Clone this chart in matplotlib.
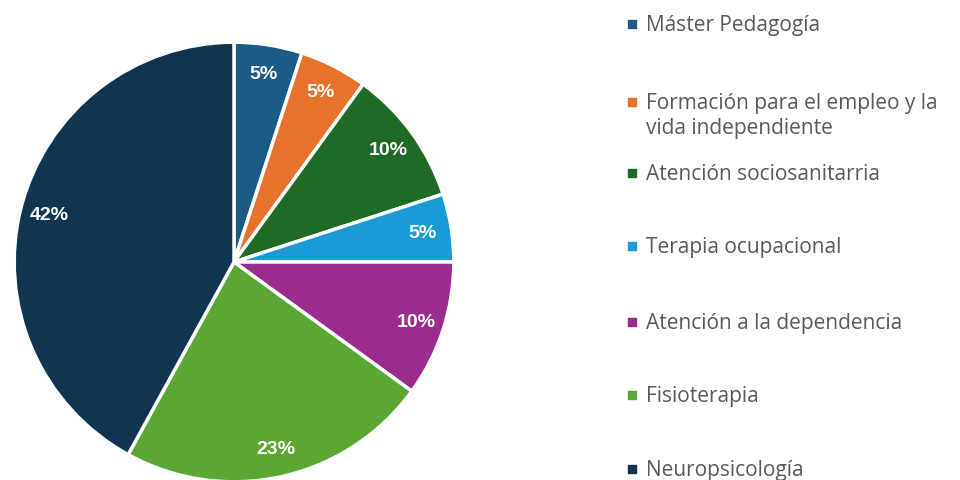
import matplotlib.pyplot as plt

# Datos del gráfico
categorias = ["Máster Pedagogía",
              "Formación para el empleo y la\nvida independiente",
              "Atención sociosanitarria",
              "Terapia ocupacional",
              "Atención a la dependencia",
              "Fisioterapia",
              "Neuropsicología"]
valores = [5, 5, 10, 5, 10, 23, 42]
colores = ["#1b5b85", "#e8712b", "#1f6b25", "#1c9ad6", "#9a2c8e", "#5ba735", "#0f3550"]

fig = plt.figure(figsize=(9.6, 4.81), dpi=100)

# Pastel: centro (234, 263) px, radio 222 px
cx, cy, r = 234, 263, 222
ax = fig.add_axes([(cx - r) / 960, (481 - cy - r) / 481, 2 * r / 960, 2 * r / 481])
wedges, _, autotexts = ax.pie(valores, colors=colores, startangle=90, counterclock=False,
                              autopct="%d%%", pctdistance=0.87, radius=1,
                              wedgeprops=dict(edgecolor="white", linewidth=2.5))
for t in autotexts:
    t.set_color("white")
    t.set_fontsize(14)
    t.set_fontweight("bold")
    t.set_family("Liberation Sans")
ax.set_xlim(-1.01, 1.01)
ax.set_ylim(-1.01, 1.01)
ax.set_aspect("equal")

# Leyenda a mano
ax_leg = fig.add_axes([0, 0, 1, 1])
ax_leg.set_xlim(0, 960)
ax_leg.set_ylim(481, 0)
ax_leg.axis("off")
ys = [24, 102, 173, 246, 322, 395, 469]
for y, c, lab in zip(ys, colores, categorias):
    ax_leg.scatter([632], [y + 1], marker="s", s=30, color=c)
    ax_leg.text(646, y - 9, lab, va="top", ha="left", fontsize=15,
                color="#595959", family="Open Sans", linespacing=1.25)

fig.savefig("out.png", dpi=100, facecolor="white")
